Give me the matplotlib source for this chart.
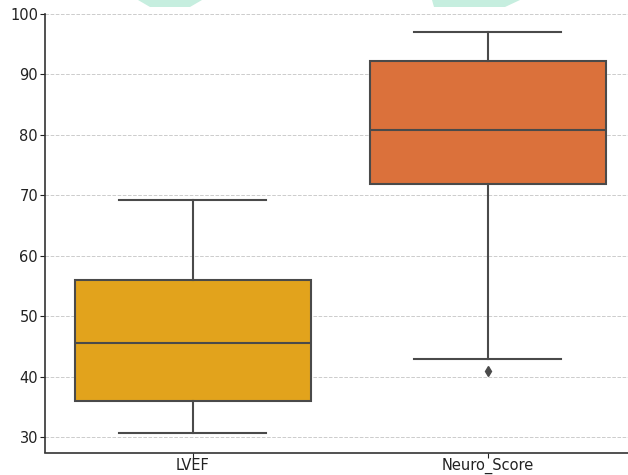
import matplotlib
matplotlib.use("Agg")
import matplotlib.pyplot as plt
from matplotlib.patches import Polygon

categories = ["LVEF", "Neuro_Score"]
whislo = [30.8, 43.0]
q1 = [36.0, 71.9]
med = [45.6, 80.8]
q3 = [56.0, 92.3]
whishi = [69.3, 97.0]
fliers = [[], [40.9]]
colors = ["#e2a31c", "#db713b"]

fig = plt.figure(figsize=(6.28, 4.75), dpi=100)
ax = fig.add_axes([45/628, 22.5/475, 590/628, 438.5/475])

stats = []
for i, c in enumerate(categories):
    stats.append(dict(label=c, whislo=whislo[i], q1=q1[i], med=med[i],
                      q3=q3[i], whishi=whishi[i], fliers=fliers[i]))

lc = "#4a4a4a"
bp = ax.bxp(stats, positions=range(len(categories)), widths=0.8,
            patch_artist=True, showfliers=True,
            boxprops=dict(edgecolor=lc, linewidth=1.5),
            medianprops=dict(color=lc, linewidth=1.5),
            whiskerprops=dict(color=lc, linewidth=1.5),
            capprops=dict(color=lc, linewidth=1.5),
            flierprops=dict(marker="d", markerfacecolor=lc, markeredgecolor=lc,
                            markersize=5))
for patch, col in zip(bp["boxes"], colors):
    patch.set_facecolor(col)
for cap in bp["caps"]:
    x = cap.get_xdata()
    cx = (x[0] + x[1]) / 2
    cap.set_xdata([cx - 0.25, cx + 0.25])

ax.set_xlim(-0.5, 1.5)
ax.set_ylim(27.5, 100)
ax.set_yticks([30, 40, 50, 60, 70, 80, 90, 100])
ax.yaxis.grid(True, linestyle="--", color="#cccccc", linewidth=0.7)
ax.set_axisbelow(True)
for s in ["top", "right"]:
    ax.spines[s].set_visible(False)
for s in ["left", "bottom"]:
    ax.spines[s].set_color("#333333")
    ax.spines[s].set_linewidth(1.2)
ax.tick_params(labelsize=10.5, colors="#222222", length=3.5, pad=1.5)
ax.tick_params(axis="x", pad=0.5)

# faint watermark shapes at top
fig.patches.append(Polygon([[138/628, 1], [202/628, 1], [190/628, 1-7/475], [150/628, 1-7/475]],
                           closed=True, transform=fig.transFigure, facecolor="#c6eedf", edgecolor="none"))
fig.patches.append(Polygon([[432/628, 1], [520/628, 1], [505/628, 1-7/475], [434/628, 1-7/475]],
                           closed=True, transform=fig.transFigure, facecolor="#c6eedf", edgecolor="none"))

fig.savefig("out.png", dpi=100)
